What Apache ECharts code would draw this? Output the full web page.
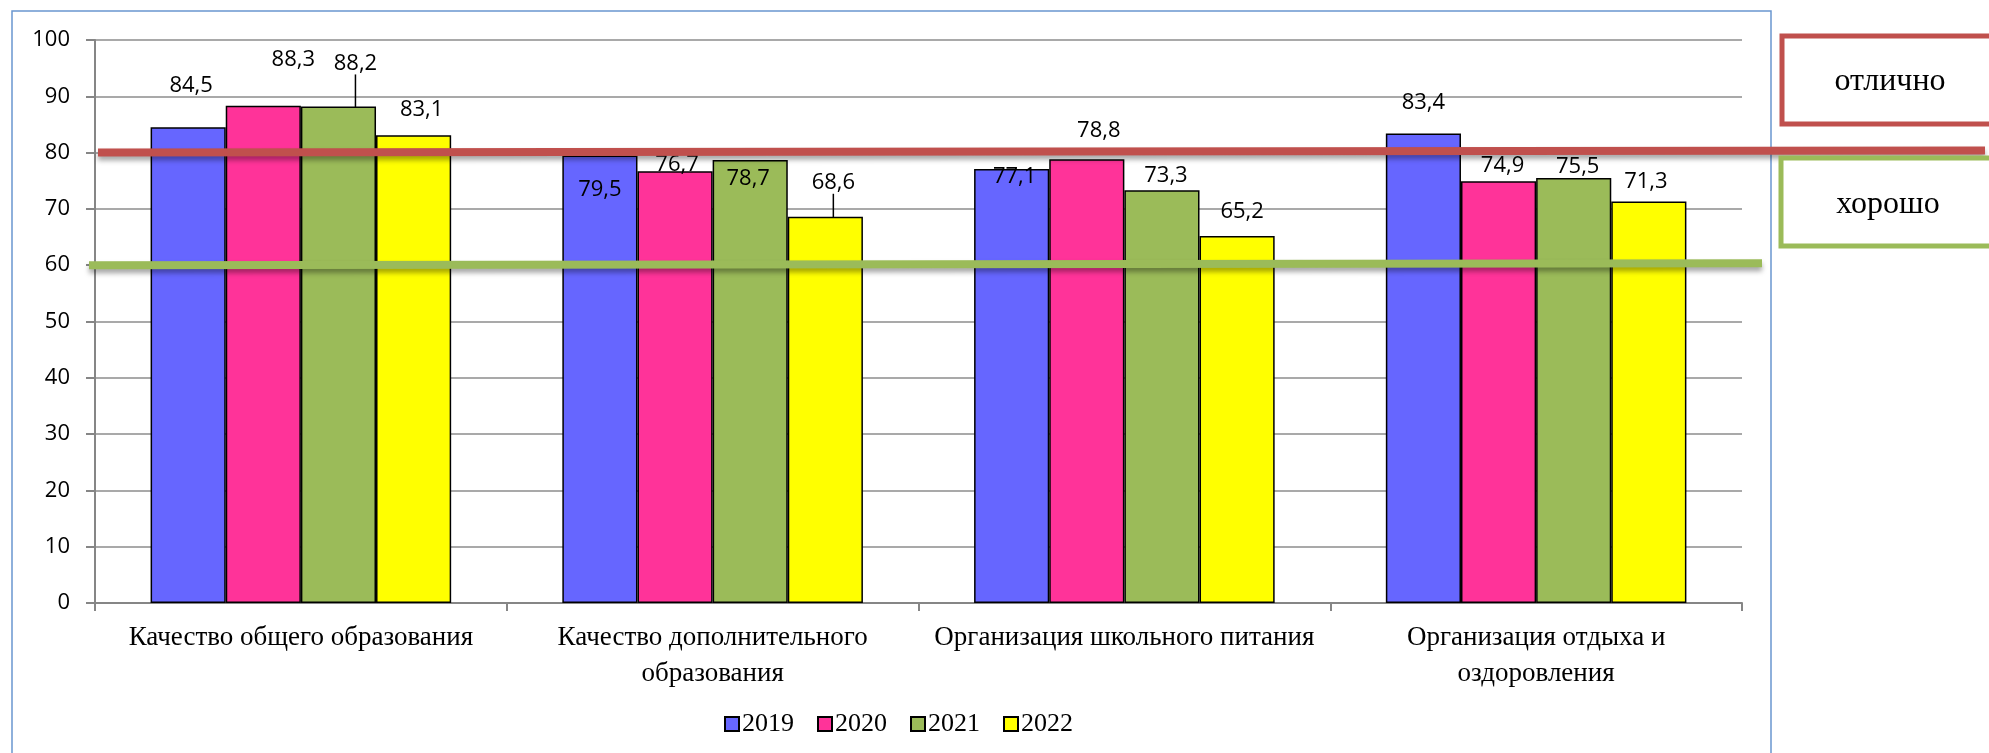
<!DOCTYPE html>
<html><head><meta charset="utf-8">
<script src="https://cdn.jsdelivr.net/npm/echarts@6/dist/echarts.min.js"></script>
<style>html,body{margin:0;padding:0;background:#fff;overflow:hidden}#c{width:1989px;height:753px}</style>
</head><body><div id="c"></div>
<script>
// ---- data ----
const categories = ['Качество общего образования', 'Качество дополнительного\nобразования', 'Организация школьного питания', 'Организация отдыха и\nоздоровления'];
const years = ['2019', '2020', '2021', '2022'];
const v2019 = [84.5, 79.5, 77.1, 83.4];
const v2020 = [88.3, 76.7, 78.8, 74.9];
const v2021 = [88.2, 78.7, 73.3, 75.5];
const v2022 = [83.1, 68.6, 65.2, 71.3];
const yMin = 0, yMax = 100, yStep = 10;
const levelExcellent = 80, levelGood = 60;
const levelNames = ['отлично', 'хорошо'];

// ---- styling ----
const colors = ['#6666FF', '#FF3399', '#9BBB59', '#FFFF00'];
const seriesValues = [v2019, v2020, v2021, v2022];
// label nudges (dx, dy) per series / category, as placed in the original
const labelNudge = [
  [[3, -26], [0, 50], [3, 24], [0, -15]],
  [[30, -30], [2, 10], [12, -13], [4, 0]],
  [[17, -27], [-2, 35], [4, 1], [4, 5]],
  [[8, -9], [8, -18], [5, -8], [-3, -4]]
];
const leader = { '2-0': true, '3-1': true };

const chart = echarts.init(document.getElementById('c'), null, { renderer: 'canvas' });
const numFont = '"Open Sans", sans-serif';
const serif = '"Liberation Serif", "Times New Roman", serif';

const series = years.map((y, si) => ({
  name: y,
  type: 'bar',
  barGap: '0%',
  barCategoryGap: '27%',
  itemStyle: { color: colors[si], borderColor: '#000', borderWidth: 1.5 },
  label: {
    show: true, position: 'top', distance: 5, color: '#000',
    fontFamily: numFont, fontSize: 22,
    formatter: p => String(p.value).replace('.', ',')
  },
  labelLayout: p => ({ dx: labelNudge[si][p.dataIndex][0], dy: labelNudge[si][p.dataIndex][1] }),
  data: seriesValues[si].map((v, ci) => leader[si + '-' + ci]
    ? { value: v, labelLine: { show: true, lineStyle: { color: '#000', width: 1.5 } } }
    : v),
  z: 2
}));

chart.setOption({
  animation: false,
  backgroundColor: '#fff',
  grid: { left: 95, right: 247, top: 40, bottom: 150, containLabel: false },
  legend: {
    data: years, left: 719, top: 706, itemWidth: 14, itemHeight: 14, itemGap: 23,
    icon: 'rect',
    textStyle: { fontFamily: serif, fontSize: 26, color: '#000', padding: [0, 0, 0, -2] }
  },
  xAxis: {
    type: 'category', data: categories,
    axisLine: { lineStyle: { color: '#868686', width: 2 } },
    axisTick: { show: true, length: 8, lineStyle: { color: '#868686', width: 2 } },
    axisLabel: { interval: 0, margin: 17, fontFamily: serif, fontSize: 27, lineHeight: 36, color: '#000' }
  },
  yAxis: {
    type: 'value', min: yMin, max: yMax, interval: yStep,
    axisLine: { show: true, lineStyle: { color: '#868686', width: 2 } },
    axisTick: { show: true, length: 9, lineStyle: { color: '#868686', width: 2 } },
    splitLine: { lineStyle: { color: '#8C8C8C', width: 1.5 } },
    axisLabel: { margin: 25, fontFamily: numFont, fontSize: 22, color: '#000' }
  },
  series: series
});

const yEx = chart.convertToPixel({ yAxisIndex: 0 }, levelExcellent);
const yGd = chart.convertToPixel({ yAxisIndex: 0 }, levelGood);
const shadow = { shadowBlur: 5, shadowOffsetY: 4, shadowColor: 'rgba(0,0,0,0.35)' };
chart.setOption({
  graphic: [
    { type: 'rect', shape: { x: 12, y: 11, width: 1759, height: 780 }, style: { fill: 'none', stroke: '#6A97D0', lineWidth: 1.5 }, z: 0, silent: true },
    { type: 'line', shape: { x1: 98, y1: yEx, x2: 1985, y2: yEx - 2 }, style: Object.assign({ stroke: '#C0504D', lineWidth: 8 }, shadow), z: 50 },
    { type: 'line', shape: { x1: 89, y1: yGd, x2: 1762, y2: yGd - 2 }, style: Object.assign({ stroke: '#9BBB59', lineWidth: 8 }, shadow), z: 50 },
    { type: 'rect', shape: { x: 1782, y: 36, width: 215, height: 88 }, style: { fill: '#fff', stroke: '#C0504D', lineWidth: 5 }, z: 50 },
    { type: 'rect', shape: { x: 1781, y: 158, width: 215, height: 88 }, style: { fill: '#fff', stroke: '#9BBB59', lineWidth: 5 }, z: 50 },
    { type: 'text', x: 1890, y: 82, style: { text: levelNames[0], fontFamily: serif, fontSize: 32, fill: '#000', textAlign: 'center', textVerticalAlign: 'middle' }, z: 51 },
    { type: 'text', x: 1888, y: 205, style: { text: levelNames[1], fontFamily: serif, fontSize: 32, fill: '#000', textAlign: 'center', textVerticalAlign: 'middle' }, z: 51 }
  ]
});
</script>
</body></html>
